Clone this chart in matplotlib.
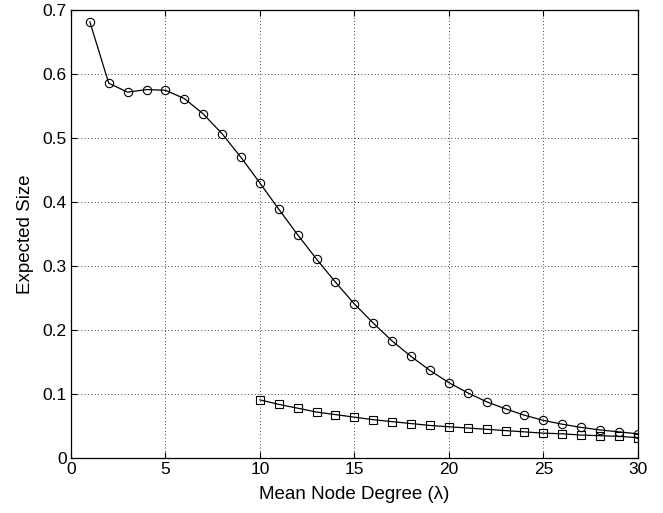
import numpy as np
import matplotlib
matplotlib.use("Agg")
import matplotlib.pyplot as plt

plt.rcParams['font.family'] = ['Liberation Sans', 'DejaVu Sans']

# mean node degree and expected size
degree_a = list(range(1, 31))
size_a = [0.682, 0.586, 0.572, 0.576, 0.575, 0.562, 0.538, 0.507, 0.470, 0.430,
          0.389, 0.349, 0.311, 0.275, 0.241, 0.211, 0.183, 0.159, 0.137, 0.118,
          0.102, 0.088, 0.077, 0.067, 0.059, 0.053, 0.048, 0.044, 0.041, 0.038]

degree_b = list(range(10, 31))
size_b = [0.091, 0.084, 0.078, 0.072, 0.068, 0.064, 0.060, 0.057, 0.054, 0.051,
          0.049, 0.047, 0.045, 0.043, 0.041, 0.039, 0.038, 0.036, 0.035, 0.034, 0.032]

xticks = [0, 5, 10, 15, 20, 25, 30]
yticks = [0, 0.1, 0.2, 0.3, 0.4, 0.5, 0.6, 0.7]

fig = plt.figure(figsize=(6.63, 5.13), dpi=100)
ax = fig.add_axes([0.107, 0.107, 0.855, 0.873])

ax.plot(degree_a, size_a, color="black", lw=0.9, marker="o", ms=6,
        mfc="none", mec="black", mew=0.8)
ax.plot(degree_b, size_b, color="black", lw=0.9, marker="s", ms=5.5,
        mfc="none", mec="black", mew=0.8)

ax.set_xlim(0, 30)
ax.set_ylim(0, 0.7)
ax.set_xticks(xticks)
ax.set_yticks(yticks)
ax.set_yticklabels(["0", "0.1", "0.2", "0.3", "0.4", "0.5", "0.6", "0.7"])
ax.grid(True, color="black", linestyle=(0, (1, 3)), linewidth=0.6)
ax.tick_params(direction="in", top=True, right=True, labelsize=12.5, length=4, pad=3)
for s in ax.spines.values():
    s.set_linewidth(0.9)

ax.set_xlabel("Mean Node Degree (\u03bb)", fontsize=13.5, labelpad=6)
ax.set_ylabel("Expected Size", fontsize=13.5, labelpad=6)

fig.savefig("out.png", dpi=100)
